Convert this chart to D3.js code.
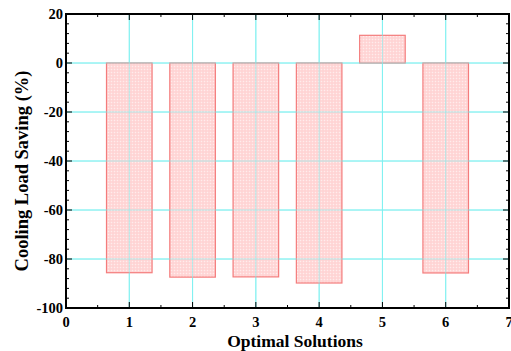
<!DOCTYPE html>
<html>
<head>
<meta charset="utf-8">
<script src="https://cdn.jsdelivr.net/npm/d3@7"></script>
<style>
  body { margin: 0; background: #fff; }
  text { font-family: "Liberation Serif", "Times New Roman", serif; font-weight: bold; }
</style>
</head>
<body>
<svg id="chart" width="511" height="351"></svg>
<script>
// values
var solutions = [1, 2, 3, 4, 5, 6];
var savings = [-85.6, -87.4, -87.3, -89.8, 11.3, -85.7];
var xTicks = [0, 1, 2, 3, 4, 5, 6, 7];
var yTicks = [20, 0, -20, -40, -60, -80, -100];

var svg = d3.select('#chart');
var plotL = 66, plotR = 509, plotT = 14, plotB = 308;

var x = d3.scaleLinear().domain([0, 7]).range([plotL, plotR]);
var y = d3.scaleLinear().domain([-100, 20]).range([plotB, plotT]);

// hatch pattern for the bars
var defs = svg.append('defs');
var pat = defs.append('pattern')
    .attr('id', 'hatch')
    .attr('patternUnits', 'userSpaceOnUse')
    .attr('width', 3).attr('height', 3);
pat.append('rect').attr('width', 3).attr('height', 3).attr('fill', '#ffd9d9');
pat.append('rect').attr('width', 1).attr('height', 1).attr('fill', '#ffecec');
pat.append('rect').attr('x', 1.5).attr('y', 1.5).attr('width', 1).attr('height', 1).attr('fill', '#ffc8c8');

function grid(g, op) {
  g.selectAll('line.gx')
    .data(xTicks.slice(1, -1))
    .enter().append('line')
    .attr('class', 'gx')
    .attr('x1', function(d) { return x(d); }).attr('x2', function(d) { return x(d); })
    .attr('y1', plotT).attr('y2', plotB)
    .style('stroke', '#7ff0f0').style('stroke-opacity', op);
  g.selectAll('line.gy')
    .data(yTicks.slice(1, -1))
    .enter().append('line')
    .attr('class', 'gy')
    .attr('y1', function(d) { return y(d); }).attr('y2', function(d) { return y(d); })
    .attr('x1', plotL).attr('x2', plotR)
    .style('stroke', '#7ff0f0').style('stroke-opacity', op);
}
grid(svg.append('g'), 1);

// bars
var bw = 0.72;
svg.append('g').selectAll('rect')
    .data(solutions)
    .enter().append('rect')
    .attr('x', function(d) { return x(d - bw / 2); })
    .attr('width', x(bw) - x(0))
    .attr('y', function(d, i) { return y(Math.max(0, savings[i])); })
    .attr('height', function(d, i) { return Math.abs(y(savings[i]) - y(0)); })
    .style('fill', 'url(#hatch)')
    .style('stroke', '#f47c7c')
    .style('stroke-width', 1.2);

// grid shows through the bars in the reference
grid(svg.append('g'), 0.6);

// axes with inward ticks
var xMinor = d3.range(0, 7.01, 0.5);
var yMinor = d3.range(-100, 20.01, 4);

function xAxis(g, sign, yPos) {
  g.selectAll('line').data(xMinor).enter().append('line')
    .attr('x1', function(d) { return x(d); }).attr('x2', function(d) { return x(d); })
    .attr('y1', yPos).attr('y2', function(d) { return yPos + sign * (d % 1 === 0 ? 6 : 3); })
    .style('stroke', '#000');
}
function yAxis(g, sign, xPos) {
  g.selectAll('line').data(yMinor).enter().append('line')
    .attr('y1', function(d) { return y(d); }).attr('y2', function(d) { return y(d); })
    .attr('x1', xPos).attr('x2', function(d) { return xPos + sign * (d % 20 === 0 ? 6 : 3); })
    .style('stroke', '#000');
}
xAxis(svg.append('g'), -1, plotB);
xAxis(svg.append('g'), 1, plotT);
yAxis(svg.append('g'), 1, plotL);
yAxis(svg.append('g'), -1, plotR);

svg.append('rect')
    .attr('x', plotL).attr('y', plotT)
    .attr('width', plotR - plotL).attr('height', plotB - plotT)
    .style('fill', 'none').style('stroke', '#000').style('stroke-width', 2);

// tick labels
svg.append('g').selectAll('text')
    .data(xTicks)
    .enter().append('text')
    .attr('x', function(d) { return x(d); })
    .attr('y', plotB + 19)
    .attr('text-anchor', 'middle')
    .style('font-size', '14.5px')
    .text(function(d) { return d; });

svg.append('g').selectAll('text')
    .data(yTicks)
    .enter().append('text')
    .attr('x', plotL - 3)
    .attr('y', function(d) { return y(d) + 5; })
    .attr('text-anchor', 'end')
    .style('font-size', '14.5px')
    .text(function(d) { return d; });

// axis titles
svg.append('text')
    .attr('x', 295)
    .attr('y', 347)
    .attr('text-anchor', 'middle')
    .style('font-size', '17.5px')
    .text('Optimal Solutions');

svg.append('text')
    .attr('transform', 'translate(28,171) rotate(-90)')
    .attr('text-anchor', 'middle')
    .style('font-size', '18.5px')
    .text('Cooling Load Saving (%)');
</script>
</body>
</html>
